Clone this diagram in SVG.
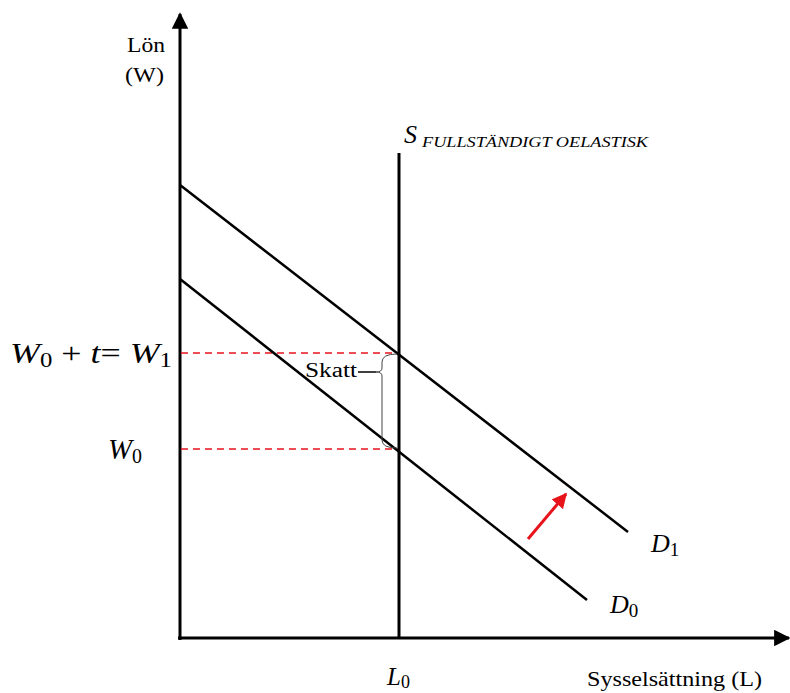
<svg xmlns="http://www.w3.org/2000/svg" width="790" height="693" viewBox="0 0 790 693">
<style>
.ax{stroke:#000;stroke-width:3;fill:none}
.ln{stroke:#000;stroke-width:2.5;fill:none}
.dash{stroke:#e8141b;stroke-width:1.5;stroke-dasharray:7,5;fill:none}
.t{font-family:"Liberation Serif","Times New Roman","DejaVu Serif",serif;fill:#000}
.m{font-family:"Liberation Serif","Times New Roman","DejaVu Serif",serif;font-style:italic;fill:#000}
</style>
<defs>
<marker id="ah" viewBox="0 0 10 10" refX="9" refY="5" markerWidth="5.5" markerHeight="5.5" orient="auto" markerUnits="strokeWidth"><path d="M0,0 L10,5 L0,10 z" fill="#000"/></marker>
<marker id="rh" viewBox="0 0 10 10" refX="9" refY="5" markerWidth="5" markerHeight="5" orient="auto" markerUnits="strokeWidth"><path d="M0,0 L10,5 L0,10 z" fill="#e8141b"/></marker>
</defs>
<g id="connectors">
<line class="ax" x1="180" y1="640" x2="180" y2="14" marker-end="url(#ah)"/>
<line class="ax" x1="178" y1="638" x2="789" y2="638" marker-end="url(#ah)"/>
<line class="dash" x1="181" y1="353" x2="399" y2="353"/>
<line class="dash" x1="181" y1="449" x2="399" y2="449"/>
<line x1="528" y1="539" x2="566" y2="494" stroke="#e8141b" stroke-width="3" marker-end="url(#rh)"/>
</g>
<g id="supply"><line class="ax" x1="399" y1="153" x2="399" y2="638"/></g>
<g id="D1"><line class="ln" x1="180" y1="185" x2="628" y2="532"/></g>
<g id="D0"><line class="ln" x1="180" y1="279" x2="587" y2="600"/></g>
<g id="brace"><path d="M397,354 Q382,354 382,362 L382,368 Q382,372 376,372 Q382,372 382,376 L382,440 Q382,448 397,448" fill="none" stroke="#444" stroke-width="1"/>
<line x1="358" y1="372" x2="376" y2="372" stroke="#000" stroke-width="1.5"/>
<text class="t" x="305" y="377" font-size="20" textLength="52" lengthAdjust="spacingAndGlyphs">Skatt</text></g>
<g id="labels">
<text class="t" x="127" y="52" font-size="22" textLength="38" lengthAdjust="spacingAndGlyphs">Lön</text>
<text class="t" x="125" y="82" font-size="22" textLength="39" lengthAdjust="spacingAndGlyphs">(W)</text>
<text class="m" x="404" y="143" font-size="26">S</text>
<text class="m" x="422" y="147" font-size="15" textLength="226" lengthAdjust="spacingAndGlyphs">FULLSTÄNDIGT OELASTISK</text>
<text class="m" x="10" y="363" font-size="29" textLength="162" lengthAdjust="spacingAndGlyphs">W<tspan font-style="normal" font-size="20" dy="4">0</tspan><tspan font-style="normal" dy="-4"> + </tspan>t<tspan font-style="normal">= </tspan>W<tspan font-style="normal" font-size="20" dy="4">1</tspan></text>
<text class="m" x="108" y="459" font-size="29" textLength="34" lengthAdjust="spacingAndGlyphs">W<tspan font-style="normal" font-size="20" dy="4">0</tspan></text>
<text class="m" x="651" y="552" font-size="26">D<tspan font-style="normal" font-size="19" dy="4">1</tspan></text>
<text class="m" x="610" y="613" font-size="26">D<tspan font-style="normal" font-size="19" dy="4">0</tspan></text>
<text class="m" x="387" y="685" font-size="25">L<tspan font-style="normal" font-size="18" dy="3">0</tspan></text>
<text class="t" x="587" y="686" font-size="22" textLength="175" lengthAdjust="spacingAndGlyphs">Sysselsättning (L)</text>
</g>
</svg>
